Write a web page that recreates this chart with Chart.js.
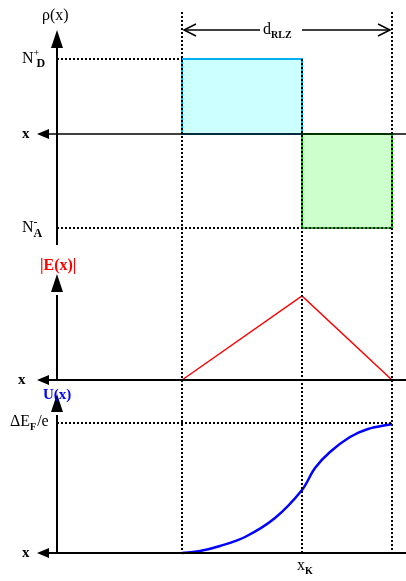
<!DOCTYPE html>
<html><head><meta charset="utf-8">
<script src="https://cdn.jsdelivr.net/npm/chart.js@4/dist/chart.umd.min.js"></script>
<style>html,body{margin:0;padding:0;background:#fff}#w{width:406px;height:581px}</style>
</head><body><div id="w"><canvas id="c"></canvas></div>
<script>
// diagram coordinates (x: position, y: vertical position in diagram units, top=0)
const xAxis = 57, xStart = 182, xK = 302, xEnd = 392;
const rhoZero = 134, levelND = 59, levelNA = 228;
const eBase = 380, eMax = 296;
const uBase = 553, uTop = 424;
const uCurveX = [182, 200, 220, 245, 275, 302, 315, 330, 350, 368, 392];
const uCurveY = [553, 551, 546, 537, 518, 490, 468, 452, 437, 429, 424];
const eFieldX = [xStart, xK, xEnd];
const eFieldY = [eBase, eMax, eBase];
const labels = {rho:'ρ(x)', nd:'N', na:'N', e:'|E(x)|', u:'U(x)', ef:'ΔE', xk:'x', d:'d'};

const pts = (xs, ys) => xs.map((x, i) => ({x, y: ys[i]}));
const seg = (x1, y1, x2, y2) => [{x: x1, y: y1}, {x: x2, y: y2}];
const line = (data, color, width, dash, tension) => ({type: 'scatter', data, showLine: true, borderColor: color,
  borderWidth: width, borderDash: dash || [], pointRadius: 0, fill: false, tension: tension || 0});
const dot = [2, 2];

const datasets = [
  line(seg(xAxis, 245, xAxis, 40), '#000', 2),
  line(seg(45, rhoZero, 406, rhoZero), '#000', 1.5),
  line(seg(xAxis, levelND, xStart, levelND), '#000', 2, dot),
  line(seg(xAxis, levelNA, xEnd, levelNA), '#000', 2, dot),
  line(seg(xStart, 12, xStart, uBase), '#000', 2, dot),
  line(seg(xK, levelND, xK, uBase), '#000', 2, dot),
  line(seg(xEnd, 12, xEnd, uBase), '#000', 2, dot),
  line(seg(xAxis, eBase, xAxis, 295), '#000', 2),
  line(seg(45, eBase, 406, eBase), '#000', 2),
  line(pts(eFieldX, eFieldY), '#ff0000', 1.5),
  line(seg(xAxis, uBase, xAxis, 415), '#000', 2),
  line(seg(45, uBase, 406, uBase), '#000', 2),
  line(seg(xAxis, uTop - 1, xEnd, uTop - 1), '#000', 2, dot),
  line(pts(uCurveX, uCurveY), '#0000ff', 2.5, [], 0.35),
  line(seg(xStart + 2, 30, xEnd - 2, 30), '#000', 1.5)
];

const deco = {
  id: 'deco',
  beforeDatasetsDraw(ch) {
    const c = ch.ctx, X = v => ch.scales.x.getPixelForValue(v), Y = v => ch.scales.y.getPixelForValue(v);
    c.save();
    c.fillStyle = '#ccffff'; c.fillRect(X(xStart), Y(levelND), X(xK) - X(xStart), Y(rhoZero) - Y(levelND));
    c.strokeStyle = '#00b0f0'; c.lineWidth = 2; c.strokeRect(X(xStart), Y(levelND), X(xK) - X(xStart), Y(rhoZero) - Y(levelND));
    c.fillStyle = '#ccffcc'; c.fillRect(X(xK), Y(rhoZero), X(xEnd) - X(xK), Y(levelNA) - Y(rhoZero));
    c.strokeStyle = '#00cc00'; c.strokeRect(X(xK), Y(rhoZero), X(xEnd) - X(xK), Y(levelNA) - Y(rhoZero));
    c.restore();
  },
  afterDatasetsDraw(ch) {
    const c = ch.ctx, X = v => ch.scales.x.getPixelForValue(v), Y = v => ch.scales.y.getPixelForValue(v);
    c.save(); c.fillStyle = '#000';
    const tri = (a, b, d) => { c.beginPath(); c.moveTo(...a); c.lineTo(...b); c.lineTo(...d); c.closePath(); c.fill(); };
    [40, 284, 404].forEach(t => tri([X(xAxis), Y(t - 10)], [X(xAxis) - 6, Y(t + 8)], [X(xAxis) + 6, Y(t + 8)]));
    [rhoZero, eBase, uBase].forEach(b => tri([X(37), Y(b)], [X(49), Y(b) - 5], [X(49), Y(b) + 5]));
    c.strokeStyle = '#000'; c.lineWidth = 1.5;
    c.beginPath(); c.moveTo(X(xStart + 14), Y(24)); c.lineTo(X(xStart + 2), Y(30)); c.lineTo(X(xStart + 14), Y(36));
    c.moveTo(X(xEnd - 14), Y(24)); c.lineTo(X(xEnd - 2), Y(30)); c.lineTo(X(xEnd - 14), Y(36)); c.stroke();
    c.fillStyle = '#fff'; c.fillRect(X(260), Y(20), 42, 20);
    const F = (s, w) => (w || 'normal') + ' ' + s + 'px "Liberation Serif"';
    const txt = (t, x, y, f, col, al) => { c.font = f; c.fillStyle = col || '#000'; c.textAlign = al || 'left'; c.textBaseline = 'middle'; c.fillText(t, x, y); return x + c.measureText(t).width; };
    txt(labels.rho, X(42), Y(16), F(16));
    let e = txt(labels.nd, X(22), Y(59), F(16)); txt('+', e, Y(53), F(10)); txt('D', e + 3, Y(64), F(12, 'bold'));
    txt('x', X(22), Y(rhoZero), F(15, 'bold'));
    e = txt(labels.na, X(22), Y(228), F(16)); txt('-', e, Y(223), F(12)); txt('A', e, Y(234), F(12, 'bold'));
    e = txt(labels.d, X(263), Y(30), F(16)); txt('RLZ', e, Y(35), F(10, 'bold'));
    txt(labels.e, X(40), Y(266), F(16, 'bold'), '#ff0000');
    txt('x', X(18), Y(eBase), F(15, 'bold'));
    txt(labels.u, X(43), Y(395), F(15, 'bold'), '#0000ff');
    e = txt(labels.ef, X(10), Y(422), F(16)); e = txt('F', e, Y(427), F(10, 'bold')); txt('/e', e + 1, Y(422), F(16));
    txt('x', X(22), Y(uBase), F(15, 'bold'));
    e = txt(labels.xk, X(297), Y(566), F(16)); txt('K', e, Y(571), F(10, 'bold'));
    c.restore();
  }
};

new Chart(document.getElementById('c'), {
  type: 'scatter',
  data: {datasets},
  options: {
    responsive: true, maintainAspectRatio: false, animation: false,
    layout: {padding: 0},
    plugins: {legend: {display: false}, tooltip: {enabled: false}},
    scales: {
      x: {type: 'linear', min: 0, max: 406, display: false},
      y: {type: 'linear', min: 0, max: 581, reverse: true, display: false}
    }
  },
  plugins: [deco]
});
</script></body></html>
